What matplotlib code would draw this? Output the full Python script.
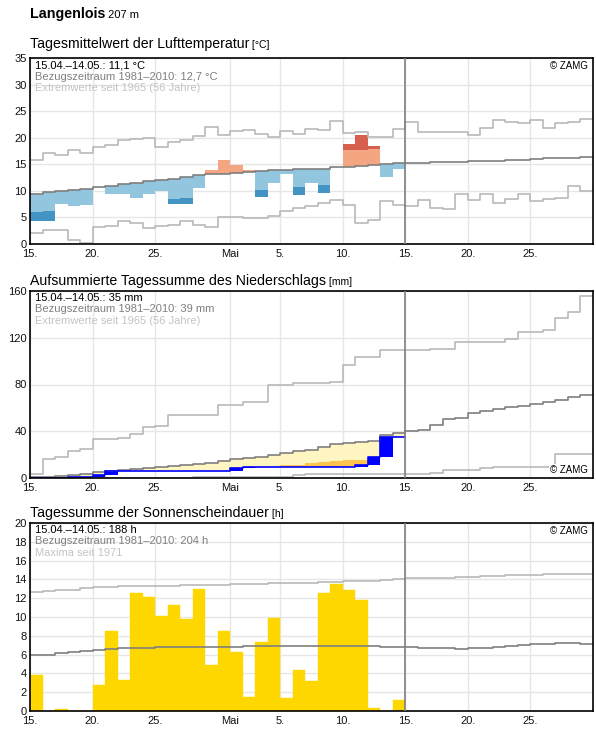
import numpy as np
import matplotlib
matplotlib.use('Agg')
from matplotlib import pyplot as plt

plt.rcParams['font.family'] = ['Liberation Sans', 'DejaVu Sans']

# x axis: days counted from 15.04. (0) to 30.05. (45)
tick_pos = [0, 5, 10, 16, 20, 25, 30, 35, 40]
tick_lab = ['15.', '20.', '25.', 'Mai', '5.', '10.', '15.', '20.', '25.']

# --- Lufttemperatur (15.04.-14.05.) ---
temp_obs = [4.4, 4.25, 7.6, 7.1, 7.4, 10.7, 9.5, 9.5, 8.6, 9.5, 9.9, 7.6, 7.6, 10.6, 13.9,
            15.8, 14.9, 13.9, 8.9, 11.4, 13.25, 9.25, 11.4, 9.6, 14.4, 18.9, 20.5, 18.4, 12.7, 14.1]
temp_p10 = [6.1, 6.25, 6.5, 6.7, 6.9, 7.2, 7.4, 7.7, 7.9, 8.2, 8.4, 8.5, 8.7, 9.0, 9.3,
            9.5, 9.8, 10.0, 10.2, 10.4, 10.5, 10.75, 10.9, 11.1, 11.3, 11.4, 11.5, 11.7, 11.9, 12.1]
temp_p90 = [12.9, 13.1, 13.3, 13.5, 13.7, 14.0, 14.2, 14.5, 14.7, 15.0, 15.3, 15.5, 15.8, 16.1, 16.3,
            16.4, 16.6, 16.8, 16.9, 17.0, 17.1, 17.2, 17.3, 17.4, 17.5, 17.6, 17.75, 17.9, 18.1, 18.3]
# Klima 1981-2010 und Extremwerte (15.04.-30.05.)
temp_mean = [9.5, 9.7, 9.9, 10.1, 10.4, 10.7, 10.9, 11.2, 11.4, 11.8, 12.1, 12.3, 12.6, 12.9, 13.1,
             13.1, 13.4, 13.6, 13.75, 13.9, 13.9, 14.1, 14.1, 14.2, 14.4, 14.5, 14.6, 14.8, 15.0, 15.2,
             15.2, 15.3, 15.4, 15.5, 15.5, 15.6, 15.7, 15.7, 15.8, 15.9, 16.0, 16.1, 16.2, 16.25, 16.3]
temp_max = [15.9, 17.1, 16.7, 17.6, 17.1, 18.2, 18.6, 19.6, 19.75, 19.9, 18.2, 19.25, 19.6, 20.3, 22.1,
            20.6, 21.2, 21.4, 20.7, 20.1, 21.2, 20.7, 21.6, 21.4, 23.1, 20.8, 21.1, 20.1, 20.1, 21.6,
            22.9, 21.0, 21.0, 21.0, 21.0, 20.5, 21.75, 23.4, 22.9, 22.7, 23.4, 21.9, 22.7, 22.9, 23.6]
temp_min = [2.1, 2.6, 2.6, 0.75, 0.25, 3.25, 3.4, 4.3, 3.9, 3.0, 3.4, 3.6, 4.3, 3.6, 3.2,
            5.1, 5.1, 4.9, 4.9, 5.25, 6.2, 6.75, 7.1, 7.7, 8.3, 7.3, 3.9, 4.5, 8.1, 7.4,
            7.1, 8.25, 6.75, 6.6, 9.4, 8.3, 9.4, 7.7, 8.4, 9.4, 8.1, 8.4, 8.6, 10.9, 10.0]

# --- Niederschlag, aufsummiert ---
prec_obs = [0, 0, 0, 0.8, 0.8, 2.2, 6.0, 6.0, 6.0, 6.0, 6.0, 6.0, 6.0, 6.0, 6.0,
            6.0, 8.5, 9.2, 9.2, 9.2, 9.2, 9.2, 9.2, 9.2, 9.2, 9.2, 11.2, 17.6, 35.0, 35.4]
prec_dry = [0.3, 0.7, 0.8, 0.8, 0.8, 1.1, 1.4, 1.7, 2.0, 2.4, 2.8, 3.2, 3.6, 4.0, 4.5,
            5.0, 5.6, 6.3, 7.0, 8.0, 10.7, 11.5, 12.8, 13.6, 14.4, 15.0, 15.3, 15.6, 17.0, 18.0]
prec_mean = [0.5, 1.1, 2.0, 2.9, 3.7, 4.9, 6.3, 7.1, 7.7, 8.3, 9.1, 10.0, 10.9, 11.7, 12.9,
             14.6, 16.3, 17.1, 18.0, 19.4, 21.4, 23.1, 24.3, 26.9, 28.9, 30.3, 31.1, 32.0, 37.1, 38.9,
             40.0, 40.9, 45.1, 50.3, 51.4, 56.0, 57.7, 58.9, 60.6, 61.7, 62.9, 64.6, 66.9, 69.7, 71.4]
prec_max = [3.7, 16.6, 18.0, 23.0, 25.0, 33.0, 33.0, 34.0, 38.0, 43.8, 44.4, 53.5, 53.5, 53.5, 53.5,
            62.5, 62.5, 65.0, 65.0, 79.5, 79.5, 81.5, 81.5, 81.5, 82.5, 97.0, 103.7, 103.7, 109.4, 109.4,
            109.4, 109.4, 110.3, 110.3, 116.0, 116.0, 116.0, 116.0, 118.9, 125.1, 125.1, 126.6, 136.6, 142.3, 155.7]
prec_min = [0, 0, 0, 0, 0, 0, 0, 0, 0, 0, 0, 0, 0, 0.5, 0.5,
            0.5, 0.5, 0.5, 0.5, 0.5, 1.1, 2.3, 3.4, 3.4, 3.4, 3.4, 3.4, 3.4, 3.4, 3.4,
            3.4, 3.4, 4.6, 6.6, 6.6, 6.6, 8.3, 9.4, 9.4, 9.4, 9.4, 9.4, 20.9, 20.9, 20.9]

# --- Sonnenscheindauer ---
sun_obs = [3.86, 0, 0.25, 0, 0, 2.8, 8.46, 3.3, 12.6, 12.1, 10.1, 11.25, 9.75, 12.96, 4.93,
           8.46, 6.3, 1.5, 7.3, 9.86, 1.4, 4.4, 3.2, 12.6, 13.5, 12.86, 11.8, 0.32, 0, 1.18]
sun_mean = [5.96, 5.96, 6.18, 6.3, 6.43, 6.5, 6.6, 6.7, 6.7, 6.75, 6.8, 6.8, 6.8, 6.8, 6.85,
            6.85, 6.85, 6.9, 6.9, 6.9, 6.9, 6.9, 6.9, 6.9, 6.9, 6.9, 6.9, 6.9, 6.85, 6.8,
            6.77, 6.67, 6.67, 6.67, 6.56, 6.67, 6.67, 6.77, 6.88, 6.98, 7.09, 7.09, 7.2, 7.2, 7.09]
sun_max = [12.7, 12.8, 12.9, 12.9, 13.05, 13.15, 13.15, 13.25, 13.25, 13.25, 13.3, 13.3, 13.4, 13.4, 13.45,
           13.45, 13.5, 13.55, 13.55, 13.6, 13.65, 13.65, 13.65, 13.7, 13.7, 13.8, 13.85, 13.85, 13.95, 14.05,
           14.1, 14.1, 14.2, 14.2, 14.3, 14.3, 14.4, 14.4, 14.5, 14.5, 14.5, 14.6, 14.6, 14.6, 14.6]

C_MEAN = '#7f7f7f'
C_EXT = '#b9b9b9'


def ext(v):
    # letzten Wert wiederholen, damit die Stufe bis zum Tagesende reicht
    v = np.asarray(v, dtype=float)
    return np.append(v, v[-1])


def setup(ax, ymax, ystep):
    ax.set_xlim(0, 45)
    ax.set_ylim(0, ymax)
    ax.set_yticks(np.arange(0, ymax + 1, ystep))
    ax.set_xticks(tick_pos)
    ax.set_xticklabels(tick_lab)
    ax.grid(color='#e6e6e6', lw=1)
    ax.set_axisbelow(True)
    ax.tick_params(length=0, labelsize=8, colors='#111111')
    ax.tick_params(axis='x', pad=3.5)
    ax.tick_params(axis='y', pad=2.5)
    for s in ax.spines.values():
        s.set_linewidth(1.2)
    ax.axvline(30, color=C_MEAN, lw=1.2, zorder=4)


def info(ax, lines):
    cols = ['#000000', '#7f7f7f', '#c4c4c4']
    for i, txt in enumerate(lines):
        ax.annotate(txt, xy=(0, 1), xycoords='axes fraction', xytext=(5, -2 - 11.5 * i),
                    textcoords='offset pixels', ha='left', va='top', fontsize=8, color=cols[i])


def zamg(ax, top=True):
    if top:
        ax.annotate('© ZAMG', xy=(1, 1), xycoords='axes fraction', xytext=(-5, -3),
                    textcoords='offset pixels', ha='right', va='top', fontsize=7)
    else:
        ax.annotate('© ZAMG', xy=(1, 0), xycoords='axes fraction', xytext=(-5, 3),
                    textcoords='offset pixels', ha='right', va='bottom', fontsize=7, zorder=6,
                    bbox=dict(facecolor='white', edgecolor='none', pad=1))


fig = plt.figure(figsize=(5.96, 7.29), dpi=100)
W, H = 596.0, 729.0
L, R = 30, 593
ax1 = fig.add_axes([L / W, 1 - 244 / H, (R - L) / W, 186 / H])
ax2 = fig.add_axes([L / W, 1 - 478 / H, (R - L) / W, 187 / H])
ax3 = fig.add_axes([L / W, 1 - 711 / H, (R - L) / W, 188 / H])

x30 = np.arange(31)
x45 = np.arange(46)

# Temperatur
setup(ax1, 35, 5)
t_obs = ext(temp_obs)
t_mean = ext(temp_mean[:30])
ax1.fill_between(x30, t_obs, np.maximum(t_obs, t_mean), step='post', color='#92c5de', lw=0)
ax1.fill_between(x30, np.minimum(t_obs, t_mean), t_obs, step='post', color='#f4a582', lw=0)
ax1.fill_between(x30, t_obs, np.maximum(t_obs, ext(temp_p10)), step='post', color='#4393c3', lw=0)
ax1.fill_between(x30, np.minimum(t_obs, ext(temp_p90)), t_obs, step='post', color='#d6604d', lw=0)
ax1.step(x45, ext(temp_max), where='post', color=C_EXT, lw=1.2)
ax1.step(x45, ext(temp_min), where='post', color=C_EXT, lw=1.2)
ax1.step(x45, ext(temp_mean), where='post', color=C_MEAN, lw=1.2)
info(ax1, ['15.04.–14.05.: 11,1 °C', 'Bezugszeitraum 1981–2010: 12,7 °C',
           'Extremwerte seit 1965 (56 Jahre)'])
zamg(ax1)

# Niederschlag
setup(ax2, 160, 40)
p_obs = ext(prec_obs)
p_prev = ext([0] + prec_obs[:-1])
ax2.fill_between(x30, p_obs, np.maximum(p_obs, ext(prec_mean[:30])), step='post', color='#fff5c0', lw=0)
ax2.fill_between(x30, p_obs, np.maximum(p_obs, ext(prec_dry)), step='post', color='#fec44f', lw=0)
ax2.fill_between(x30, p_prev, p_obs, step='post', color='#0000ff', lw=0)
ax2.step(x45, ext(prec_max), where='post', color=C_EXT, lw=1.2)
ax2.step(x45, ext(prec_min), where='post', color=C_EXT, lw=1.2)
ax2.step(x45, ext(prec_mean), where='post', color=C_MEAN, lw=1.2)
ax2.step(x30, p_obs, where='post', color='#0000ff', lw=1.2)
info(ax2, ['15.04.–14.05.: 35 mm', 'Bezugszeitraum 1981–2010: 39 mm',
           'Extremwerte seit 1965 (56 Jahre)'])
zamg(ax2, top=False)

# Sonnenschein
setup(ax3, 20, 2)
ax3.bar(np.arange(30), sun_obs, width=1, align='edge', color='#ffd700',
        edgecolor='#ffd700', lw=0.3)
ax3.step(x45, ext(sun_max), where='post', color=C_EXT, lw=1.2)
ax3.step(x45, ext(sun_mean), where='post', color=C_MEAN, lw=1.2)
info(ax3, ['15.04.–14.05.: 188 h', 'Bezugszeitraum 1981–2010: 204 h', 'Maxima seit 1971'])
zamg(ax3)

# Titel mit kleiner Einheit dahinter
titles = [(17.7, 'Langenlois', ' 207 m', 'bold', 10.3, 8),
          (47.7, 'Tagesmittelwert der Lufttemperatur', ' [°C]', 'normal', 10.2, 7.5),
          (285.0, 'Aufsummierte Tagessumme des Niederschlags', ' [mm]', 'normal', 10.2, 7.5),
          (517.3, 'Tagessumme der Sonnenscheindauer', ' [h]', 'normal', 10.2, 7.5)]
big = []
for y, t1, t2, w, fs, fs2 in titles:
    big.append(fig.text(L / W, 1 - y / H, t1, fontsize=fs, weight=w, va='baseline'))
fig.canvas.draw()
renderer = fig.canvas.get_renderer()
for t, (y, t1, t2, w, fs, fs2) in zip(big, titles):
    bb = t.get_window_extent(renderer)
    fig.text(bb.x1 / fig.bbox.width, 1 - y / H, t2, fontsize=fs2, va='baseline')

plt.savefig('out.png', dpi=100)
